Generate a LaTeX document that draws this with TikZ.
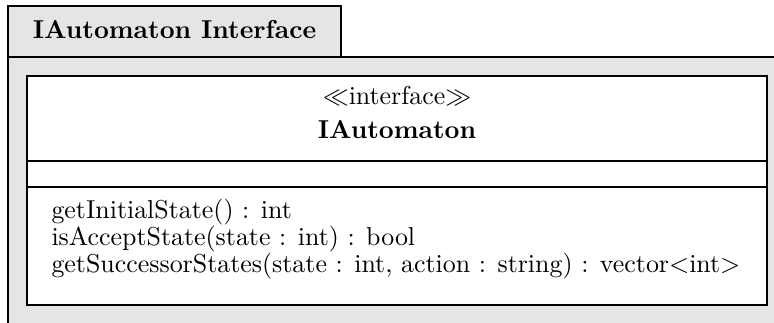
\documentclass[tikz,border=0pt]{standalone}
\usepackage{amsmath}
\usepackage{amssymb}
\usepackage{xcolor}
\usepackage{tikz}
\definecolor{pkggray}{gray}{0.9}
\tikzset{
  pkgline/.style={draw=black, line width=0.5pt},
  classbox/.style={draw=black, fill=white, line width=0.5pt},
  headtext/.style={anchor=base, inner sep=0pt},
  methtext/.style={anchor=base west, inner sep=0pt},
}

\begin{document}
\begin{tikzpicture}[x=0.386pt,y=-0.386pt]
    \useasboundingbox (0,0) rectangle (774,322);
    \clip (0,0) rectangle (774,322);

    % package frame
    \fill[pkggray] (8,57) rectangle (800,340);
    \draw[pkgline] (8,340) -- (8,57) -- (800,57);
    \filldraw[pkgline, fill=pkggray] (8,6) rectangle (341,57);
    \node[headtext] (pkgname) at (174.5,38) {\textbf{IAutomaton Interface}};

    % class box
    \filldraw[classbox] (27,76) rectangle (767,305);
    \draw[pkgline] (27,161) -- (767,161);
    \draw[pkgline] (27,187) -- (767,187);

    \node[headtext] (stereo) at (397,104) {$\ll$interface$\gg$};
    \node[headtext] (classname) at (397,138) {\textbf{IAutomaton}};

    \node[methtext] (initstate) at (51,218) {getInitialState() : int};
    \node[methtext] (acceptstate) at (51,245) {isAcceptState(state : int) : bool};
    \node[methtext] (succstates) at (51,272) {getSuccessorStates(state : int, action : string) : vector$<$int$>$};
\end{tikzpicture}
\end{document}
